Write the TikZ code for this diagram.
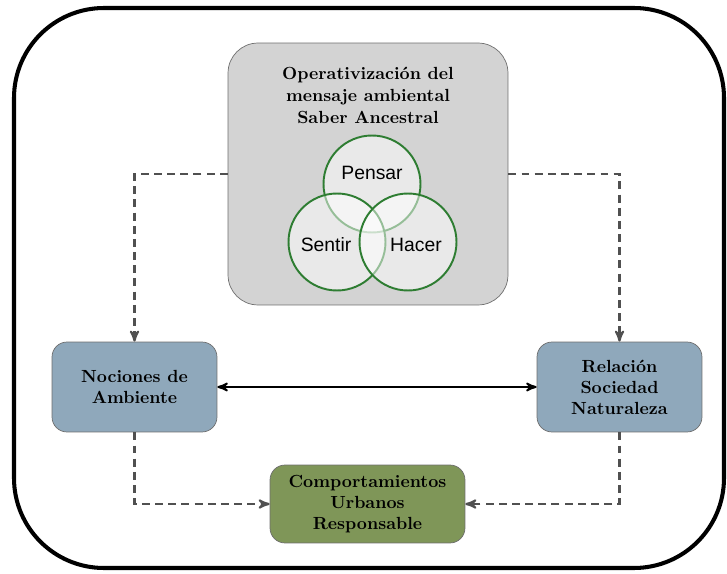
\documentclass[tikz,border=0pt]{standalone}
\usepackage{fontspec}
\usepackage{tikz}
\newfontfamily\vennfont{Liberation Sans}
\definecolor{colframe}{RGB}{110,110,110}
\definecolor{colgray}{RGB}{211,211,211}
\definecolor{colblue}{RGB}{143,168,187}
\definecolor{cololive}{RGB}{127,150,88}
\definecolor{colvenn}{RGB}{46,125,50}
\definecolor{coldash}{RGB}{80,80,80}
\usetikzlibrary{
	arrows,
	positioning
}
\tikzset{
	>=stealth',
	outerframe/.style={line width=2.3pt, rounded corners=1.8cm},
	blocknode/.style={draw=colframe, rounded corners=0.3cm, align=center, font=\bfseries},
	vennnode/.style={circle, draw=colvenn, line width=1.1pt, fill=white, fill opacity=0.5, minimum size=1.94cm, inner sep=0pt},
	vennlabel/.style={font=\vennfont\fontsize{11}{13}\selectfont},
	flowedge/.style={->, draw=coldash, line width=1.2pt, dash pattern=on 4.5pt off 3pt},
	linkedge/.style={<->, line width=1.1pt}
}

\begin{document}
\begin{tikzpicture}[x=0.02cm, y=-0.02cm]
	\useasboundingbox (0,0) rectangle (727,574);
	\draw[outerframe] (14,8) rectangle (724,568);
	% saber ancestral
	\node[blocknode, fill=colgray, rounded corners=0.6cm, minimum width=5.6cm, minimum height=5.24cm] (saber) at (368,174) {};
	\node[align=center, font=\bfseries\fontsize{10}{12.5}\selectfont] (titulo) at (368,95) {Operativización del\\mensaje ambiental\\Saber Ancestral};
	\foreach \name/\x/\y in {pensar/372/184, sentir/337/242, hacer/408/242} {
		\node[vennnode] (\name) at (\x,\y) {};
	}
	\node[vennlabel] (lpensar) at (372,173) {Pensar};
	\node[vennlabel] (lsentir) at (326,245) {Sentir};
	\node[vennlabel] (lhacer) at (416,245) {Hacer};
	% cajas
	\node[blocknode, fill=colblue, minimum width=3.3cm, minimum height=1.8cm] (nociones) at (134.5,387) {Nociones de\\Ambiente};
	\node[blocknode, fill=colblue, minimum width=3.3cm, minimum height=1.8cm] (relacion) at (619.5,387) {Relación\\Sociedad\\Naturaleza};
	\node[blocknode, fill=cololive, minimum width=3.9cm, minimum height=1.56cm] (comport) at (367.5,504) {Comportamientos\\Urbanos\\Responsable};
	% conexiones
	\draw[flowedge] (saber.west) -| (nociones.north);
	\draw[flowedge] (saber.east) -| (relacion.north);
	\draw[linkedge] (nociones.east) -- (relacion.west);
	\draw[flowedge] (nociones.south) |- (comport.west);
	\draw[flowedge] (relacion.south) |- (comport.east);
\end{tikzpicture}
\end{document}
